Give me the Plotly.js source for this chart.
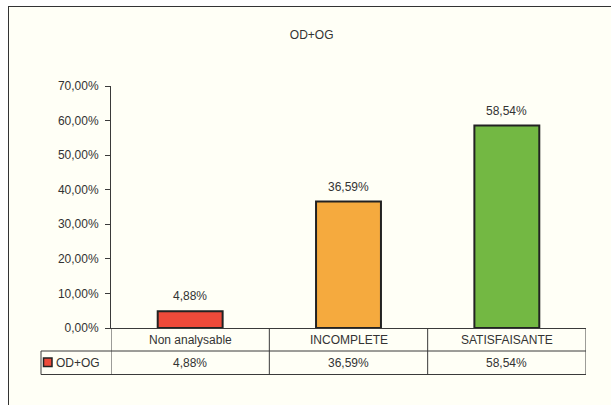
<!DOCTYPE html>
<html>
<head>
<meta charset="utf-8">
<script src="https://cdn.plot.ly/plotly-3.0.1.min.js"></script>
<style>
html,body{margin:0;padding:0;background:#ffffff;overflow:hidden;width:611px;height:405px;}
#frame{position:absolute;left:8px;top:5.5px;width:603px;height:399.5px;background:#FFFFF6;border-left:1.5px solid #333;border-top:1.5px solid #333;box-sizing:border-box;}
#chart{position:absolute;left:0;top:0;width:611px;height:405px;}
</style>
</head>
<body>
<div id="frame"></div>
<div id="chart"></div>
<script>
const categories = ["Non analysable", "INCOMPLETE", "SATISFAISANTE"];
const values = [0.0488, 0.3659, 0.5854];
const barColors = ["#EE4A3A", "#F5AA3E", "#73B843"];
const seriesName = "OD+OG";
const chartTitle = "OD+OG";

const W = 611, H = 405;
const M = {l: 111, r: 25, t: 86, b: 77};
const PW = W - M.l - M.r, PH = H - M.t - M.b;
const px = x => (x - M.l) / PW;
const py = y => (H - M.b - y) / PH;

const textColor = "#333333";
const lineColor = "#3a3a3a";
const fontFam = "Liberation Sans, Arial, sans-serif";

function fmt(v){ return (v*100).toFixed(2).replace(".", ",") + "%"; }

const trace = {
  type: "bar",
  x: categories,
  y: values,
  width: 0.41,
  marker: {color: barColors, line: {color: "#222222", width: 2}},
  hoverinfo: "none",
  showlegend: false
};

const shapes = [];
const rowBot1 = py(351), rowBot2 = py(374.5), legLeft = px(41);
shapes.push({type:"line", xref:"paper", yref:"paper", x0:legLeft, x1:1, y0:rowBot1, y1:rowBot1, line:{color:lineColor, width:1}});
shapes.push({type:"line", xref:"paper", yref:"paper", x0:legLeft, x1:1, y0:rowBot2, y1:rowBot2, line:{color:lineColor, width:1}});
shapes.push({type:"line", xref:"paper", yref:"paper", x0:legLeft, x1:legLeft, y0:rowBot1, y1:rowBot2, line:{color:lineColor, width:1}});
for (let i = 0; i <= categories.length; i++) {
  shapes.push({type:"line", xref:"x", yref:"paper", x0:i-0.5, x1:i-0.5, y0:0, y1:rowBot2, line:{color:lineColor, width:1}});
}
// legend key
shapes.push({type:"rect", xref:"paper", yref:"paper", x0:px(43.5), x1:px(52), y0:py(366.5), y1:py(358),
  fillcolor:barColors[0], line:{color:"#222222", width:1.5}});

const annotations = [];
categories.forEach((c, i) => {
  annotations.push({xref:"x", yref:"y", x:c, y:values[i], text:fmt(values[i]), showarrow:false,
    yanchor:"bottom", yshift:6, font:{size:12, color:textColor, family:fontFam}});
  annotations.push({xref:"x", yref:"paper", x:c, y:py(340), text:c, showarrow:false,
    yanchor:"middle", font:{size:12, color:textColor, family:fontFam}});
  annotations.push({xref:"x", yref:"paper", x:c, y:py(362.5), text:fmt(values[i]), showarrow:false,
    yanchor:"middle", font:{size:12, color:textColor, family:fontFam}});
});
annotations.push({xref:"paper", yref:"paper", x:px(54), y:py(362.5), text:seriesName, showarrow:false,
  xanchor:"left", yanchor:"middle", font:{size:12, color:textColor, family:fontFam}});

const layout = {
  width: W, height: H,
  margin: M,
  paper_bgcolor: "rgba(0,0,0,0)",
  plot_bgcolor: "rgba(0,0,0,0)",
  separators: ", ",
  font: {family: fontFam, size: 12, color: textColor},
  title: {text: chartTitle, xref: "container", x: 311.7 / W, xanchor: "center",
    yref: "container", y: 1 - 35 / H, yanchor: "middle",
    font: {size: 12, color: textColor, family: fontFam}},
  xaxis: {range: [-0.5, 2.5], showticklabels: false, ticks: "", showgrid: false, zeroline: false,
    showline: true, linecolor: lineColor, linewidth: 1, fixedrange: true},
  yaxis: {range: [0, 0.7], dtick: 0.1, tick0: 0, tickformat: ".2%", ticks: "outside", ticklen: 5,
    tickcolor: lineColor, showline: true, linecolor: lineColor, linewidth: 1, showgrid: false,
    ticklabelstandoff: 4,
    zeroline: false, tickfont: {size: 12, color: textColor, family: fontFam}, fixedrange: true},
  shapes: shapes,
  annotations: annotations,
  bargap: 0.59
};

Plotly.newPlot("chart", [trace], layout, {displayModeBar: false, staticPlot: true});
</script>
</body>
</html>
